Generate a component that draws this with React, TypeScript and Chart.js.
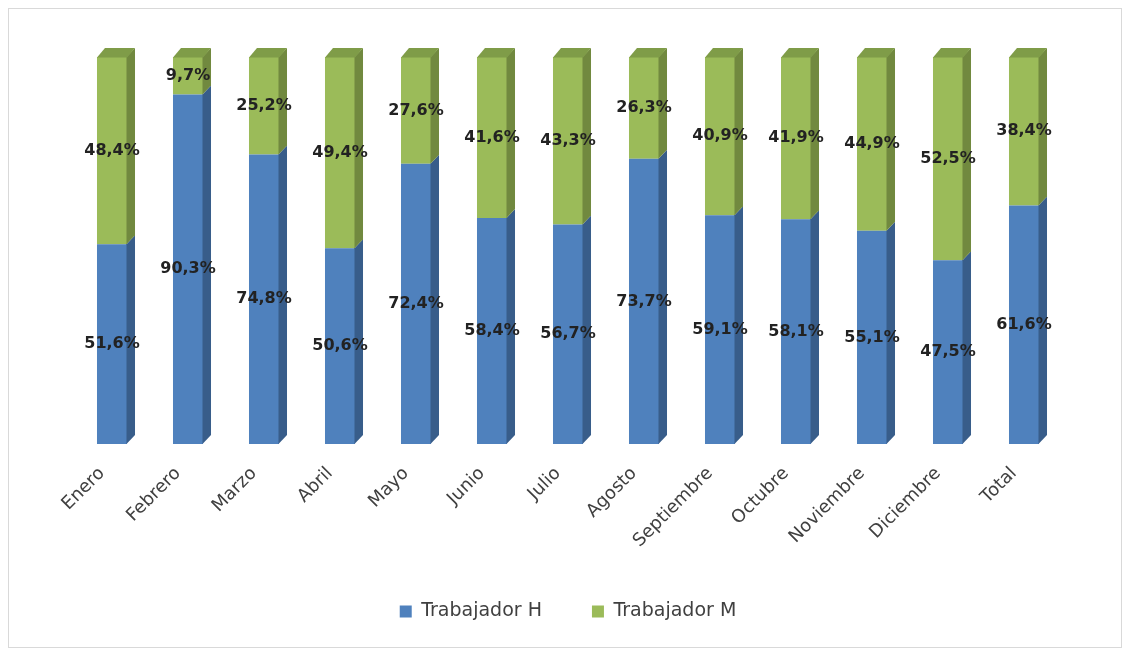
import React, { useEffect, useRef } from "react";
import { Chart, registerables } from "chart.js";

Chart.register(...registerables);

const categories = [
  "Enero", "Febrero", "Marzo", "Abril", "Mayo", "Junio", "Julio",
  "Agosto", "Septiembre", "Octubre", "Noviembre", "Diciembre", "Total",
];
const seriesH = [51.6, 90.3, 74.8, 50.6, 72.4, 58.4, 56.7, 73.7, 59.1, 58.1, 55.1, 47.5, 61.6];
const seriesM = [48.4, 9.7, 25.2, 49.4, 27.6, 41.6, 43.3, 26.3, 40.9, 41.9, 44.9, 52.5, 38.4];
const seriesNames = ["Trabajador H", "Trabajador M"];

const frontColors = ["#4F81BD", "#9BBB59"];
const sideColors = ["#385D8A", "#71893F"];
const topColors = ["#4472A8", "#7F9C48"];

const DX = 8;
const DY = 9;

const depthPlugin = {
  id: "depth3d",
  afterDatasetsDraw(chart: any) {
    const ctx = chart.ctx;
    const n = chart.data.datasets.length;
    chart.data.datasets.forEach((_ds: any, di: number) => {
      const meta = chart.getDatasetMeta(di);
      if (meta.hidden) return;
      meta.data.forEach((el: any) => {
        const { x, y, base, width } = el.getProps(["x", "y", "base", "width"], true);
        const x0 = x - width / 2;
        const x1 = x + width / 2;
        ctx.save();
        ctx.fillStyle = sideColors[di];
        ctx.beginPath();
        ctx.moveTo(x1 - 0.5, y);
        ctx.lineTo(x1 + DX, y - DY);
        ctx.lineTo(x1 + DX, base - DY);
        ctx.lineTo(x1 - 0.5, base);
        ctx.closePath();
        ctx.fill();
        if (di === n - 1) {
          ctx.fillStyle = topColors[di];
          ctx.beginPath();
          ctx.moveTo(x0, y + 0.5);
          ctx.lineTo(x0 + DX, y - DY);
          ctx.lineTo(x1 + DX, y - DY);
          ctx.lineTo(x1, y + 0.5);
          ctx.closePath();
          ctx.fill();
        }
        ctx.restore();
      });
    });
  },
};

const labelPlugin = {
  id: "segLabels",
  afterDatasetsDraw(chart: any) {
    const ctx = chart.ctx;
    chart.data.datasets.forEach((ds: any, di: number) => {
      const meta = chart.getDatasetMeta(di);
      if (meta.hidden) return;
      meta.data.forEach((el: any, i: number) => {
        const { x, y, base } = el.getProps(["x", "y", "base"], true);
        const v = ds.data[i] as number;
        const txt = v.toFixed(1).replace(".", ",") + "%";
        ctx.save();
        ctx.font = "bold 16px 'DejaVu Sans'";
        ctx.fillStyle = "#222222";
        ctx.textAlign = "center";
        ctx.textBaseline = "middle";
        ctx.fillText(txt, x, (y + base) / 2);
        ctx.restore();
      });
    });
  },
};

export default function App() {
  const canvasRef = useRef<HTMLCanvasElement | null>(null);

  useEffect(() => {
    if (!canvasRef.current) return;
    const chart = new Chart(canvasRef.current, {
      type: "bar",
      data: {
        labels: categories,
        datasets: [
          {
            label: seriesNames[0],
            data: seriesH,
            backgroundColor: frontColors[0],
            borderWidth: 0,
            barPercentage: 0.79,
            categoryPercentage: 0.5,
          },
          {
            label: seriesNames[1],
            data: seriesM,
            backgroundColor: frontColors[1],
            borderWidth: 0,
            barPercentage: 0.79,
            categoryPercentage: 0.5,
          },
        ],
      },
      options: {
        animation: false,
        responsive: true,
        maintainAspectRatio: false,
        layout: { padding: { top: 48, left: 65, right: 59, bottom: 16 } },
        scales: {
          x: {
            stacked: true,
            grid: { display: false, drawTicks: false },
            border: { display: false },
            afterFit: (s: any) => {
              s.height = 108;
            },
            ticks: {
              autoSkip: false,
              maxRotation: 45,
              minRotation: 45,
              padding: 19,
              labelOffset: -10,
              color: "#404040",
              font: { family: "'DejaVu Sans'", size: 18 },
            },
          },
          y: {
            stacked: true,
            display: false,
            min: 0,
            max: 100,
          },
        },
        plugins: {
          legend: {
            position: "bottom",
            labels: {
              boxWidth: 12,
              boxHeight: 12,
              padding: 50,
              color: "#404040",
              font: { family: "'DejaVu Sans'", size: 19 },
            },
          },
          tooltip: { enabled: false },
        },
      },
      plugins: [depthPlugin, labelPlugin],
    });
    return () => chart.destroy();
  }, []);

  return (
    <div
      style={{
        width: 1114,
        height: 640,
        border: "1px solid #d9d9d9",
        boxSizing: "border-box",
        background: "#ffffff",
      }}
    >
      <div style={{ position: "relative", width: 1112, height: 638 }}>
        <canvas ref={canvasRef} />
      </div>
    </div>
  );
}
